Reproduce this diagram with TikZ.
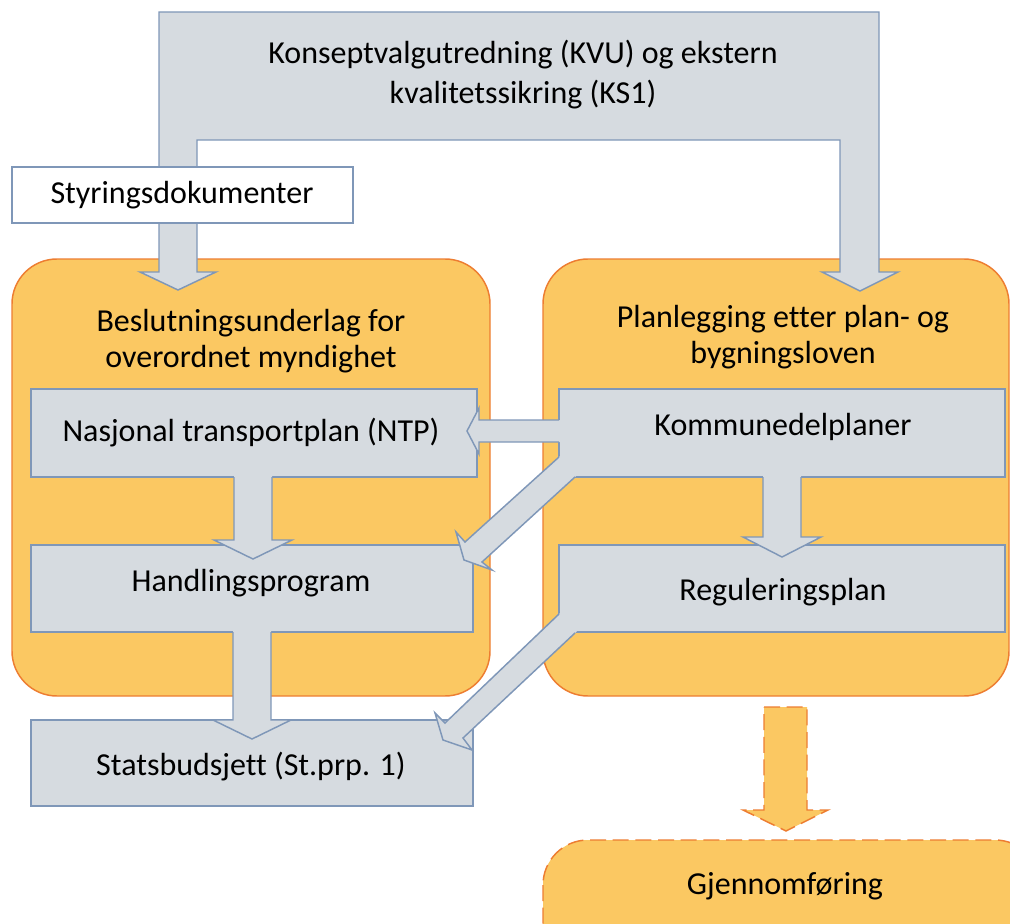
\documentclass[tikz,border=0pt]{standalone}
\usepackage{fontspec}
\setmainfont{Carlito}[Ligatures=NoCommon]
\definecolor{orfill}{HTML}{FBC862}
\definecolor{orline}{HTML}{ED7D31}
\definecolor{grfill}{HTML}{D6DBE0}
\definecolor{grline}{HTML}{7F97B8}
\tikzset{
  orbox/.style={fill=orfill, draw=orline, line width=1.1pt, rounded corners=33.75pt},
  grbox/.style={fill=grfill, draw=grline, line width=1.1pt},
  wbox/.style={fill=white, draw=grline, line width=1.1pt},
  arrfill/.style={fill=grfill},
  arrline/.style={draw=grline, line width=1.1pt, line join=miter},
  txt/.style={font=\fontsize{24}{27.5}\selectfont, align=center, inner sep=0pt},
}
\begin{document}
\begin{tikzpicture}[x=0.75pt,y=-0.75pt]
\useasboundingbox (0,0) rectangle (1010,924);
% orange containers
\draw[orbox] (12,259) rectangle (490,696);
\draw[orbox] (543,259) rectangle (1009,696);
% gray boxes
\draw[grbox] (31,389) rectangle (477,477);
\draw[grbox] (559,389) rectangle (1005,477);
\draw[grbox] (31,545) rectangle (473,632);
\draw[grbox] (559,545) rectangle (1005,632);
\draw[grbox] (31,720) rectangle (473,806);
% bent arrow
\draw[arrfill, arrline] (159,12) -- (879,12) -- (879,272) -- (898,272) -- (860,291) -- (822,272) -- (840,272) -- (840,140) -- (197,140) -- (197,272) -- (216,272) -- (178,290) -- (140,272) -- (159,272) -- cycle;
% Styringsdokumenter
\draw[wbox] (12,167) rectangle (353,223);
% down arrow NTP -> Handlingsprogram
\fill[arrfill] (234,474) -- (234,540) -- (214,540) -- (253,559) -- (292,540) -- (272,540) -- (272,474) -- cycle;
\draw[arrline] (234,477) -- (234,540) -- (214,540) -- (253,559) -- (292,540) -- (272,540) -- (272,477);
% down arrow Kommunedelplaner -> Reguleringsplan
\fill[arrfill] (763,474) -- (763,537) -- (743,537) -- (782,557) -- (821,537) -- (801,537) -- (801,474) -- cycle;
\draw[arrline] (763,477) -- (763,537) -- (743,537) -- (782,557) -- (821,537) -- (801,537) -- (801,477);
% down arrow Handlingsprogram -> Statsbudsjett
\fill[arrfill] (233,629) -- (233,720) -- (213,720) -- (252,739) -- (291,720) -- (271,720) -- (271,629) -- cycle;
\draw[arrline] (233,632) -- (233,720) -- (213,720) -- (252,739) -- (291,720) -- (271,720) -- (271,632);
% left arrow Kommunedelplaner -> NTP
\fill[arrfill] (562,420) -- (479,420) -- (479,408) -- (467,431) -- (479,454) -- (479,442) -- (562,442) -- cycle;
\draw[arrline] (559,420) -- (479,420) -- (479,408) -- (467,431) -- (479,454) -- (479,442) -- (559,442);
% diagonal Kommunedelplaner -> Handlingsprogram
\fill[arrfill] (559,457) -- (465,542) -- (456,532) -- (464,560) -- (492,570) -- (482,562) -- (575,477) -- (585,468) -- (569,448) -- cycle;
\draw[arrline] (559,457) -- (465,542) -- (456,532) -- (464,560) -- (492,570) -- (482,562) -- (575,477);
% diagonal Reguleringsplan -> Statsbudsjett
\fill[arrfill] (559,614) -- (445,723) -- (435,713) -- (443,740) -- (472,750) -- (463,738) -- (575,633) -- (585,624) -- (569,605) -- cycle;
\draw[arrline] (559,614) -- (445,723) -- (435,713) -- (443,740) -- (472,750) -- (463,738) -- (575,633);
% dashed arrow
\draw[fill=orfill, draw=orline, line width=1.1pt, dash pattern=on 12pt off 5pt] (764,707) -- (807,707) -- (807,810) -- (828,810) -- (786,831) -- (743,810) -- (764,810) -- cycle;
% Gjennomføring
\draw[fill=orfill, draw=orline, line width=1.1pt, dash pattern=on 12pt off 5pt, rounded corners=33.75pt] (543,840) rectangle (1040,970);
% texts
\node[txt, font=\fontsize{24}{30}\selectfont] (kvu) at (523,75) {Konseptvalgutredning (KVU) og ekstern\\kvalitetssikring (KS1)};
\node[txt] (styr) at (182,195) {Styringsdokumenter};
\node[txt] (besl) at (251,341) {Beslutningsunderlag for\\overordnet myndighet};
\node[txt] (plan) at (783,337) {Planlegging etter plan- og\\bygningsloven};
\node[txt] (ntp) at (251,433) {Nasjonal transportplan (NTP)};
\node[txt] (kdp) at (783,427) {Kommunedelplaner};
\node[txt] (hp) at (251,583) {Handlingsprogram};
\node[txt] (rp) at (783,592) {Reguleringsplan};
\node[txt] (sb) at (251,767) {Statsbudsjett (St.prp. 1)};
\node[txt] (gj) at (785,886) {Gjennomføring};
\end{tikzpicture}
\end{document}
